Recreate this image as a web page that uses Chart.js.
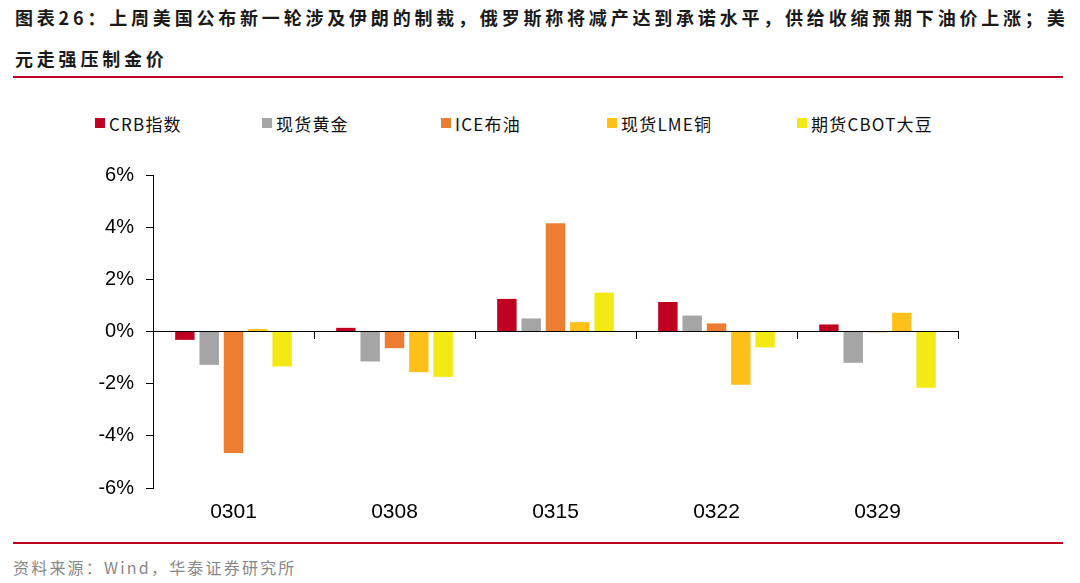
<!DOCTYPE html>
<html>
<head>
<meta charset="utf-8">
<script src="https://cdn.jsdelivr.net/npm/chart.js@4.4.1/dist/chart.umd.min.js"></script>
<style>
  html, body { margin: 0; padding: 0; background: #fff; }
  body { width: 1080px; height: 583px; position: relative; overflow: hidden; font-family: "Noto Sans CJK SC", "Liberation Sans", sans-serif; }
  .title { position: absolute; left: 15px; top: -3px; font-size: 18px; font-weight: bold; color: #1a1a1a; letter-spacing: 3.8px; line-height: 41px; white-space: nowrap; }
  .rule { position: absolute; left: 13px; width: 1050px; height: 2px; background: #c00021; }
  .legend-item { position: absolute; top: 112px; height: 22px; display: flex; align-items: center; font-size: 17px; color: #111; letter-spacing: 1.2px; white-space: nowrap; }
  .legend-item i { display: inline-block; width: 10px; height: 10px; margin-right: 4px; }
  .source { position: absolute; left: 13px; top: 555px; font-size: 16px; color: #888; letter-spacing: 2.2px; white-space: nowrap; }
  #wrap { position: absolute; left: 0; top: 150px; width: 1080px; height: 390px; }
</style>
</head>
<body>
<div class="title">图表26：上周美国公布新一轮涉及伊朗的制裁，俄罗斯称将减产达到承诺水平，供给收缩预期下油价上涨；美<br>元走强压制金价</div>
<div class="rule" style="top:76px"></div>
<div id="legend"></div>
<div id="wrap"><canvas id="chart"></canvas></div>
<div class="rule" style="top:542px"></div>
<div class="source">资料来源：Wind，华泰证券研究所</div>

<script>
// weekly change, %
const WEEKS = ['0301', '0308', '0315', '0322', '0329'];

const SERIES_NAMES = ['CRB指数', '现货黄金', 'ICE布油', '现货LME铜', '期货CBOT大豆'];

const crbIndex   = [-0.32,  0.14, 1.25,  1.13,  0.27];
const spotGold   = [-1.28, -1.15, 0.50,  0.61, -1.20];
const iceBrent   = [-4.66, -0.64, 4.15,  0.31, -0.03];
const lmeCopper  = [ 0.09, -1.56, 0.36, -2.04,  0.72];
const cbotSoy    = [-1.34, -1.74, 1.49, -0.61, -2.16];

const Y_TICKS = [-6, -4, -2, 0, 2, 4, 6];

const COLORS = ['#c00021', '#a5a5a5', '#ed7d31', '#ffc119', '#f3ea13'];
const LEGEND_LEFT = [95, 262, 441, 607, 797];

const seriesValues = [crbIndex, spotGold, iceBrent, lmeCopper, cbotSoy];

// html legend (spacing of the original is uneven)
const legendEl = document.getElementById('legend');
SERIES_NAMES.forEach((name, i) => {
  const item = document.createElement('div');
  item.className = 'legend-item';
  item.style.left = LEGEND_LEFT[i] + 'px';
  item.innerHTML = '<i style="background:' + COLORS[i] + '"></i>' + name;
  legendEl.appendChild(item);
});

const AXIS_FONT = 'Liberation Sans, Arial, sans-serif';

const datasets = SERIES_NAMES.map((name, i) => ({
  label: name,
  data: seriesValues[i],
  backgroundColor: COLORS[i],
  borderWidth: 0,
  barPercentage: 0.8,
  categoryPercentage: 0.755,
}));

new Chart(document.getElementById('chart'), {
  type: 'bar',
  data: { labels: WEEKS, datasets },
  options: {
    responsive: true,
    maintainAspectRatio: false,
    animation: false,
    layout: { padding: { top: 25, right: 122, left: 0, bottom: 0 } },
    plugins: {
      legend: { display: false },
      tooltip: { enabled: false },
    },
    scales: {
      x: {
        type: 'category',
        position: 'bottom',
        offset: true,
        grid: { display: false, drawTicks: false, tickLength: 0 },
        border: { display: false },
        ticks: { color: '#000', font: { family: AXIS_FONT, size: 21 }, padding: 12, maxRotation: 0 },
        afterFit: (s) => { s.height = 52; },
      },
      // zero line with category tick marks
      x2: {
        type: 'category',
        position: { y: 0 },
        offset: true,
        grid: { offset: true, drawOnChartArea: false, drawTicks: true, tickLength: 7, color: '#000', lineWidth: 1 },
        border: { display: true, color: '#000', width: 1 },
        ticks: { display: false },
        afterFit: (s) => { s.height = 0; },
      },
      y: {
        position: 'left',
        min: Y_TICKS[0],
        max: Y_TICKS[Y_TICKS.length - 1],
        afterBuildTicks: (s) => { s.ticks = Y_TICKS.map(v => ({ value: v })); },
        grid: { drawOnChartArea: false, drawTicks: true, tickLength: 7, color: '#000', lineWidth: 1 },
        border: { display: true, color: '#000', width: 1 },
        ticks: {
          color: '#000',
          font: { family: AXIS_FONT, size: 20 },
          padding: 12,
          callback: (v) => v + '%',
        },
        afterFit: (s) => { s.width = 153; },
      },
    },
  },
});
</script>
</body>
</html>
